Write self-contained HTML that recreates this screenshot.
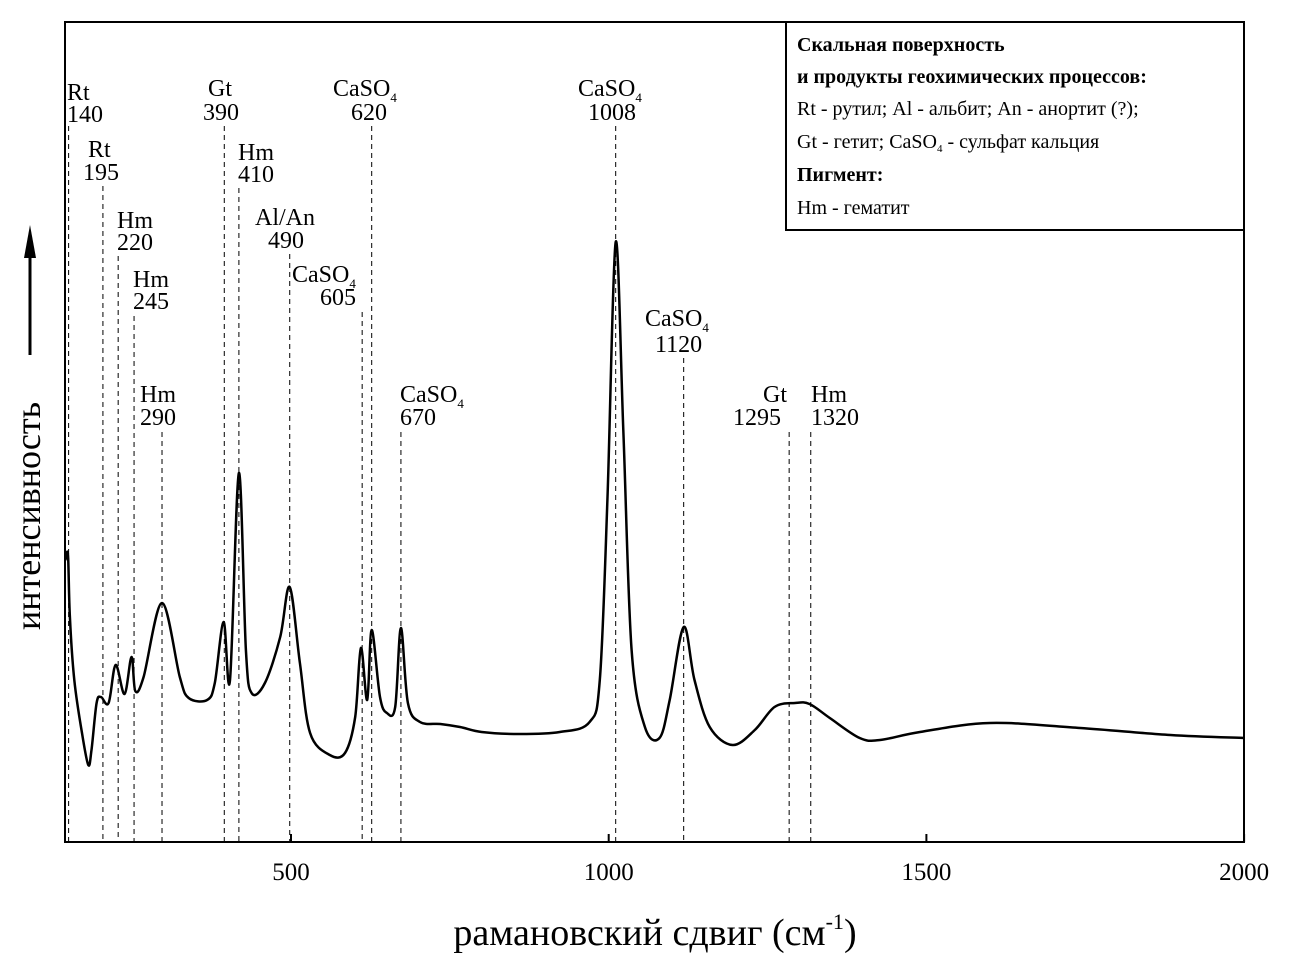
<!DOCTYPE html>
<html><head><meta charset="utf-8"><style>
html,body{margin:0;padding:0;background:#fff;}
svg{display:block;font-family:"Liberation Serif",serif;}
</style></head><body>
<svg id="chart" width="1289" height="972" viewBox="0 0 1289 972" xmlns="http://www.w3.org/2000/svg">
<rect x="65" y="22" width="1179" height="820" fill="none" stroke="#000" stroke-width="2"/>
<g id="ticks"></g>
<g id="vlines"></g>
<path id="curve" fill="none" stroke="#000" stroke-width="2.5" stroke-linejoin="round"/>
<g font-size="24" fill="#000">
<text x="67" y="100">Rt</text><text x="67" y="122">140</text>
<text x="88" y="157">Rt</text><text x="83" y="180">195</text>
<text x="117" y="228">Hm</text><text x="117" y="250">220</text>
<text x="133" y="287">Hm</text><text x="133" y="309">245</text>
<text x="140" y="402">Hm</text><text x="140" y="425">290</text>
<text x="208" y="96">Gt</text><text x="203" y="120">390</text>
<text x="238" y="160">Hm</text><text x="238" y="182">410</text>
<text x="255" y="225">Al/An</text><text x="268" y="248">490</text>
<text x="292" y="282">CaSO<tspan font-size="13" dy="6">4</tspan></text><text x="320" y="305">605</text>
<text x="333" y="96">CaSO<tspan font-size="13" dy="6">4</tspan></text><text x="351" y="120">620</text>
<text x="400" y="402">CaSO<tspan font-size="13" dy="6">4</tspan></text><text x="400" y="425">670</text>
<text x="578" y="96">CaSO<tspan font-size="13" dy="6">4</tspan></text><text x="588" y="120">1008</text>
<text x="645" y="326">CaSO<tspan font-size="13" dy="6">4</tspan></text><text x="655" y="352">1120</text>
<text x="763" y="402">Gt</text><text x="733" y="425">1295</text>
<text x="811" y="402">Hm</text><text x="811" y="425">1320</text>
</g>
<g>
<rect x="786" y="22" width="458" height="208" fill="#fff" stroke="#000" stroke-width="2"/>
<text x="797" y="51" font-size="20" font-weight="bold">Скальная поверхность</text>
<text x="797" y="83" font-size="20" font-weight="bold">и продукты геохимических процессов:</text>
<text x="797" y="115" font-size="20">Rt - рутил; Al - альбит; An - анортит (?);</text>
<text x="797" y="148" font-size="20">Gt - гетит; CaSO<tspan font-size="11" dy="4">4</tspan><tspan dy="-4"> - сульфат кальция</tspan></text>
<text x="797" y="181" font-size="20" font-weight="bold">Пигмент:</text>
<text x="797" y="214" font-size="20">Hm - гематит</text>
</g>
<g>
<text transform="translate(40,630) rotate(-90)" font-size="36">интенсивность</text>
<line x1="30" y1="355" x2="30" y2="250" stroke="#000" stroke-width="3"/>
<polygon points="30,225 24,258 36,258" fill="#000"/>
</g>
<text x="655" y="945" font-size="38" text-anchor="middle">рамановский сдвиг (см<tspan font-size="22" dy="-16">-1</tspan><tspan dy="16">)</tspan></text>
</svg>
<script>
const shifts=[145,149,152,159,171,181,186,194,201,213,224,238,249,255,268,297,325,339,368,380,394,404,418,429,438,459,483,498,514,530,561,585,601,610,620,627,640,651,664,673,684,703,735,766,800,860,923,970,986,998,1011,1023,1036,1057,1080,1096,1118,1135,1159,1195,1230,1261,1293,1316,1348,1395,1427,1490,1600,1742,1884,2000];
const intensity=[282,287,225,162,109,77,92,139,145,139,177,148,185,151,165,239,165,144,142,159,220,162,369,192,149,159,205,255,179,109,87,89,125,194,142,212,145,129,135,214,139,120,118,115,110,108,110,120,162,342,600,412,192,115,104,142,215,162,115,97,112,135,139,138,124,104,102,110,119,114,107,104];
const tickValues=[500,1000,1500,2000];
const tickLabels=["500","1000","1500","2000"];
const markerShifts=[150,204,228,253,297,395,418,498,612,627,673,1011,1118,1284,1318];
const markerTops=[126,186,256,316,432,126,188,254,312,126,432,126,358,432,432];
const NS="http://www.w3.org/2000/svg";
const xS=v=>291+(v-500)*0.6354;
const yS=v=>842-v;
const pts=shifts.map((s,i)=>[xS(s),yS(intensity[i])]);
let d="M"+pts[0][0].toFixed(1)+","+pts[0][1].toFixed(1);
for(let i=0;i<pts.length-1;i++){
 const p0=pts[Math.max(0,i-1)],p1=pts[i],p2=pts[i+1],p3=pts[Math.min(pts.length-1,i+2)];
 const c1=[p1[0]+(p2[0]-p0[0])/6,p1[1]+(p2[1]-p0[1])/6];
 const c2=[p2[0]-(p3[0]-p1[0])/6,p2[1]-(p3[1]-p1[1])/6];
 d+=" C"+c1.map(n=>n.toFixed(1))+" "+c2.map(n=>n.toFixed(1))+" "+p2.map(n=>n.toFixed(1));
}
document.getElementById('curve').setAttribute('d',d);
const tg=document.getElementById('ticks');
tickValues.forEach((v,i)=>{
 const l=document.createElementNS(NS,'line');
 
 
 l.setAttribute('x1',xS(v));l.setAttribute('x2',xS(v));l.setAttribute('y1',842);l.setAttribute('y2',834);l.setAttribute('stroke','#000');l.setAttribute('stroke-width','2');
 tg.appendChild(l);
 const t=document.createElementNS(NS,'text');
 
 
 t.setAttribute('x',xS(v));t.setAttribute('y',880);t.setAttribute('font-size','25');t.setAttribute('text-anchor','middle');
 t.textContent=tickLabels[i];
 tg.appendChild(t);
});
const vg=document.getElementById('vlines');
markerShifts.forEach((v,i)=>{
 const l=document.createElementNS(NS,'line');
 
 
 l.setAttribute('x1',xS(v));l.setAttribute('x2',xS(v));
 l.setAttribute('y1',markerTops[i]);l.setAttribute('y2',842);
 l.setAttribute('stroke','#000');l.setAttribute('stroke-width','1');l.setAttribute('stroke-dasharray','5,4');
 vg.appendChild(l);
});
</script>
</body></html>
